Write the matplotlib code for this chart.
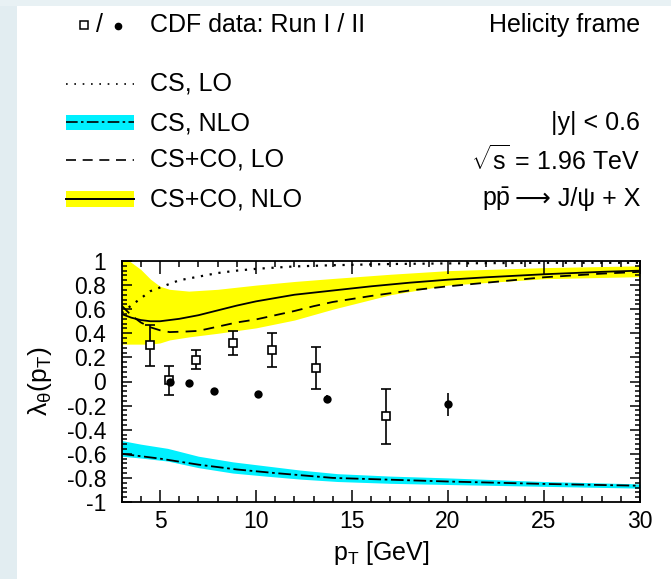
import numpy as np
import matplotlib
matplotlib.use("Agg")
import matplotlib.pyplot as plt
from matplotlib.lines import Line2D
from matplotlib.patches import Rectangle
from matplotlib.ticker import MultipleLocator, FuncFormatter

plt.rcParams["font.family"] = ["Liberation Sans", "DejaVu Sans"]
plt.rcParams["mathtext.fontset"] = "custom"
plt.rcParams["mathtext.rm"] = "Liberation Sans"
plt.rcParams["mathtext.it"] = "Liberation Sans:italic"
plt.rcParams["axes.unicode_minus"] = False

# CDF data, Run I (open squares) and Run II (dots)
run1_pt = [4.5, 5.45, 6.9, 8.8, 10.85, 13.15, 16.75]
run1_lam = [0.30, 0.01, 0.18, 0.32, 0.26, 0.115, -0.29]
run1_err = [0.17, 0.12, 0.08, 0.10, 0.14, 0.175, 0.23]

run2_pt = [5.5, 6.5, 7.8, 10.1, 13.7, 20.0]
run2_lam = [0.0, -0.015, -0.08, -0.10, -0.145, -0.19]
run2_err = [0.015, 0.015, 0.015, 0.015, 0.035, 0.095]

# CS, LO (dotted)
cs_lo_pt = [3, 3.5, 4, 4.5, 5, 5.5, 6, 7, 8, 9, 10, 12, 14, 17, 20, 25, 30]
cs_lo_lam = [0.57, 0.63, 0.69, 0.75, 0.78, 0.81, 0.84, 0.87, 0.90, 0.92,
             0.935, 0.955, 0.965, 0.975, 0.98, 0.985, 0.985]

# CS, NLO (dash-dot + cyan band)
cs_nlo_pt = [3, 5, 7, 9, 11, 14, 17, 20, 25, 30]
cs_nlo_lam = [-0.60, -0.64, -0.69, -0.73, -0.76, -0.80, -0.815, -0.83, -0.85, -0.865]
cs_band_pt = [3, 4, 5.4, 7, 8.8, 10.5, 12.3, 14.25, 17, 20, 25, 30]
cs_band_hi = [-0.49, -0.52, -0.555, -0.62, -0.667, -0.70, -0.735, -0.765,
              -0.785, -0.80, -0.83, -0.85]
cs_band_lo = [-0.62, -0.635, -0.66, -0.715, -0.76, -0.785, -0.81, -0.83,
              -0.845, -0.855, -0.87, -0.885]

# CS+CO, LO (dashed)
csco_lo_pt = [3, 3.5, 4, 4.5, 5, 5.5, 6.4, 7, 8, 9, 10, 11, 12, 13, 14,
              16, 18, 20, 22, 25, 28, 30]
csco_lo_lam = [0.63, 0.55, 0.49, 0.45, 0.425, 0.41, 0.415, 0.42, 0.455, 0.49,
               0.515, 0.55, 0.585, 0.625, 0.66, 0.71, 0.755, 0.79, 0.82,
               0.865, 0.895, 0.91]

# CS+CO, NLO (solid + yellow band)
csco_nlo_pt = [3, 3.5, 4, 4.5, 5, 6, 7, 8, 9, 10, 12, 14, 16, 18, 20, 22,
               25, 28, 30]
csco_nlo_lam = [0.56, 0.53, 0.51, 0.50, 0.50, 0.52, 0.55, 0.59, 0.63, 0.665,
                0.72, 0.755, 0.79, 0.82, 0.845, 0.865, 0.89, 0.91, 0.92]
csco_band_pt = [3, 3.4, 4, 4.5, 5, 5.5, 6.5, 8, 10, 12, 14, 17, 20, 25, 30]
csco_band_hi = [1.0, 1.0, 0.93, 0.85, 0.79, 0.765, 0.75, 0.765, 0.80, 0.83,
                0.855, 0.89, 0.92, 0.945, 0.96]
csco_band_lo = [0.31, 0.31, 0.31, 0.31, 0.32, 0.345, 0.37, 0.40, 0.445, 0.51,
                0.60, 0.72, 0.80, 0.853, 0.87]

W, H = 671, 579
fig = plt.figure(figsize=(W / 100, H / 100), dpi=100)
fig.patch.set_facecolor("white")

# header / legend drawn in pixel coordinates
hdr = fig.add_axes([0, 0, 1, 1], zorder=0)
hdr.set_xlim(0, W)
hdr.set_ylim(H, 0)
hdr.axis("off")
hdr.add_patch(Rectangle((0, 0), 17, H, color="#e2edf1", lw=0))
hdr.add_patch(Rectangle((0, 0), W, 6, color="#e8f1f4", lw=0))

fs = 18
hdr.plot([84], [25], marker="s", ms=5.5, mfc="white", mec="black", mew=1.1)
hdr.text(100, 25, "/", fontsize=fs, ha="center", va="center")
hdr.plot([118], [26], marker="o", ms=4.5, color="black")
hdr.text(150, 25, "CDF data: Run I / II", fontsize=fs, va="center")
hdr.text(640, 25, "Helicity frame", fontsize=fs, va="center", ha="right")

x0, x1 = 66, 134
hdr.add_line(Line2D([x0, x1], [84, 84], color="black", lw=1.2, ls=(0, (1, 4))))
hdr.text(150, 84, "CS, LO", fontsize=fs, va="center")

hdr.add_patch(Rectangle((x0, 115), x1 - x0, 15, color="#00f0ff", lw=0))
hdr.add_line(Line2D([x0, x1], [122, 122], color="black", lw=1.2,
                    ls=(0, (7, 2, 1.5, 2))))
hdr.text(150, 123, "CS, NLO", fontsize=fs, va="center")

hdr.add_line(Line2D([x0, x1], [160, 160], color="black", lw=1.2, ls=(0, (6, 4))))
hdr.text(150, 160, "CS+CO, LO", fontsize=fs, va="center")

hdr.add_patch(Rectangle((x0, 191), x1 - x0, 16, color="#ffff00", lw=0))
hdr.add_line(Line2D([x0, x1], [199, 199], color="black", lw=1.4))
hdr.text(150, 199, "CS+CO, NLO", fontsize=fs, va="center")

hdr.text(640, 123, "|y| < 0.6", fontsize=fs, va="center", ha="right")
hdr.text(640, 160, r"$\sqrt{\mathrm{s}}$ = 1.96 TeV", fontsize=fs,
         va="center", ha="right")
proc = hdr.text(640, 199, "⟶ J/ψ + X", fontsize=fs, va="center", ha="right")
fig.canvas.draw()
left = proc.get_window_extent().x0
hdr.text(left - 4, 199, r"p$\mathrm{\bar{p}}$", fontsize=fs, va="center",
         ha="right")

# main plot
ax = fig.add_axes([121.6 / W, 1 - 502 / H, (640 - 121.6) / W, (502 - 261) / H],
                  zorder=1)
ax.fill_between(csco_band_pt, csco_band_lo, csco_band_hi, color="#ffff00", lw=0)
ax.fill_between(cs_band_pt, cs_band_lo, cs_band_hi, color="#00f0ff", lw=0)
ax.plot(cs_lo_pt, cs_lo_lam, color="black", lw=1.6, ls=(0, (1, 3)))
ax.plot(csco_nlo_pt, csco_nlo_lam, color="black", lw=1.3)
ax.plot(csco_lo_pt, csco_lo_lam, color="black", lw=1.3, ls=(0, (6, 4)))
ax.plot(cs_nlo_pt, cs_nlo_lam, color="black", lw=1.3, ls=(0, (7, 2, 1.5, 2)))

ax.errorbar(run1_pt, run1_lam, yerr=run1_err, fmt="s", ms=6, mfc="white",
            mec="black", mew=1.2, ecolor="black", elinewidth=1.2, capsize=3.5,
            capthick=1.2, zorder=5)
ax.errorbar(run2_pt, run2_lam, yerr=run2_err, fmt="o", ms=6, mew=0,
            color="black", elinewidth=1.2, capsize=3, capthick=1.2, zorder=6)


def ylab(v, pos):
    if abs(v) < 1e-9:
        return "0"
    return f"{v:.1f}".rstrip("0").rstrip(".")


ax.set_xlim(3, 30)
ax.set_ylim(-1, 1)
ax.xaxis.set_major_locator(MultipleLocator(5))
ax.xaxis.set_minor_locator(MultipleLocator(1))
ax.yaxis.set_major_locator(MultipleLocator(0.2))
ax.yaxis.set_minor_locator(MultipleLocator(0.04))
ax.yaxis.set_major_formatter(FuncFormatter(ylab))
ax.tick_params(which="both", direction="in", top=True, right=True,
               labelsize=16.5, width=1.1)
ax.tick_params(axis="x", which="major", length=9, pad=6)
ax.tick_params(axis="x", which="minor", length=4.5)
ax.tick_params(axis="y", which="major", length=7, pad=11)
ax.tick_params(axis="y", which="minor", length=3.5)
for s in ax.spines.values():
    s.set_linewidth(1.3)

ax.set_xlabel(r"p$_\mathrm{T}$ [GeV]", fontsize=18, labelpad=4)
ax.set_ylabel(r"λ$_\mathrm{θ}$(p$_\mathrm{T}$)", fontsize=19, labelpad=9)

fig.savefig("out.png", dpi=100)
